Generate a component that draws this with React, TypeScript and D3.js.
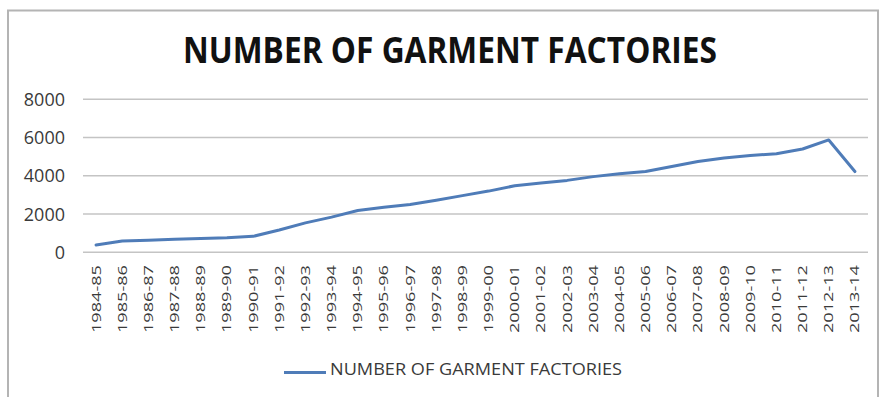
import React from "react";
import * as d3 from "d3";

const TITLE = "NUMBER OF GARMENT FACTORIES";
const SERIES_NAME = "NUMBER OF GARMENT FACTORIES";
const categories = [
  "1984-85", "1985-86", "1986-87", "1987-88", "1988-89", "1989-90", "1990-91",
  "1991-92", "1992-93", "1993-94", "1994-95", "1995-96", "1996-97", "1997-98",
  "1998-99", "1999-00", "2000-01", "2001-02", "2002-03", "2003-04", "2004-05",
  "2005-06", "2006-07", "2007-08", "2008-09", "2009-10", "2010-11", "2011-12",
  "2012-13", "2013-14",
];
const values = [
  384, 594, 629, 685, 725, 759, 834, 1163, 1537, 1839, 2182, 2353, 2503, 2726,
  2963, 3200, 3480, 3618, 3760, 3957, 4107, 4220, 4490, 4743, 4925, 5063, 5150,
  5400, 5876, 4222,
];
const yTicks = [0, 2000, 4000, 6000, 8000];

const W = 881;
const H = 397;
const plot = { left: 83, right: 868, top: 99.3, bottom: 252.3 };
const FONT = "'Open Sans', 'Liberation Sans', sans-serif";

export default function App() {
  const x = d3
    .scaleBand<string>()
    .domain(categories)
    .range([plot.left, plot.right])
    .paddingInner(0)
    .paddingOuter(0);
  const y = d3.scaleLinear().domain([0, 8000]).range([plot.bottom, plot.top]);
  const cx = (c: string) => (x(c) as number) + x.bandwidth() / 2;
  const line = d3
    .line<number>()
    .x((_, i) => cx(categories[i]))
    .y((v) => y(v));

  return (
    <svg
      width={W}
      height={H}
      style={{ position: "absolute", left: 0, top: 0, background: "#fff" }}
    >
      <rect x={0} y={0} width={W} height={H} fill="#fff" />
      {/* outer chart border */}
      <path
        d={`M8,${H + 5} L8,10.5 L878,10.5 L878,${H + 5}`}
        fill="none"
        stroke="#b4b4b4"
        strokeWidth={2}
      />
      {/* title */}
      <text
        x={450}
        y={63}
        textAnchor="middle"
        fontFamily={FONT}
        fontWeight={700}
        fontSize={36}
        fill="#111"
        textLength={534}
        lengthAdjust="spacingAndGlyphs"
      >
        {TITLE}
      </text>
      {/* gridlines */}
      {yTicks.map((t) => (
        <line
          key={t}
          x1={plot.left}
          x2={plot.right}
          y1={y(t)}
          y2={y(t)}
          stroke="#c4c4c4"
          strokeWidth={1.5}
        />
      ))}
      {/* y labels */}
      {yTicks.map((t) => (
        <text
          key={"yl" + t}
          x={65}
          y={y(t)}
          dy="0.36em"
          textAnchor="end"
          fontFamily={FONT}
          fontSize={18}
          fill="#3a3a3a"
        >
          {t}
        </text>
      ))}
      {/* x labels */}
      {categories.map((c) => (
        <text
          key={c}
          transform={`translate(${cx(c) + 4.5},265) rotate(-90)`}
          textAnchor="end"
          fontFamily={FONT}
          fontSize={13}
          fill="#3a3a3a"
          textLength={68}
          lengthAdjust="spacingAndGlyphs"
        >
          {c}
        </text>
      ))}
      {/* series line */}
      <path
        d={line(values) || ""}
        fill="none"
        stroke="#4f7cb8"
        strokeWidth={3}
        strokeLinejoin="round"
        strokeLinecap="round"
      />
      {/* legend */}
      <line x1={284} x2={326} y1={372.5} y2={372.5} stroke="#4f7cb8" strokeWidth={3} />
      <text
        x={330}
        y={375}
        fontFamily={FONT}
        fontSize={17}
        fill="#3a3a3a"
        textLength={292}
        lengthAdjust="spacingAndGlyphs"
      >
        {SERIES_NAME}
      </text>
    </svg>
  );
}
